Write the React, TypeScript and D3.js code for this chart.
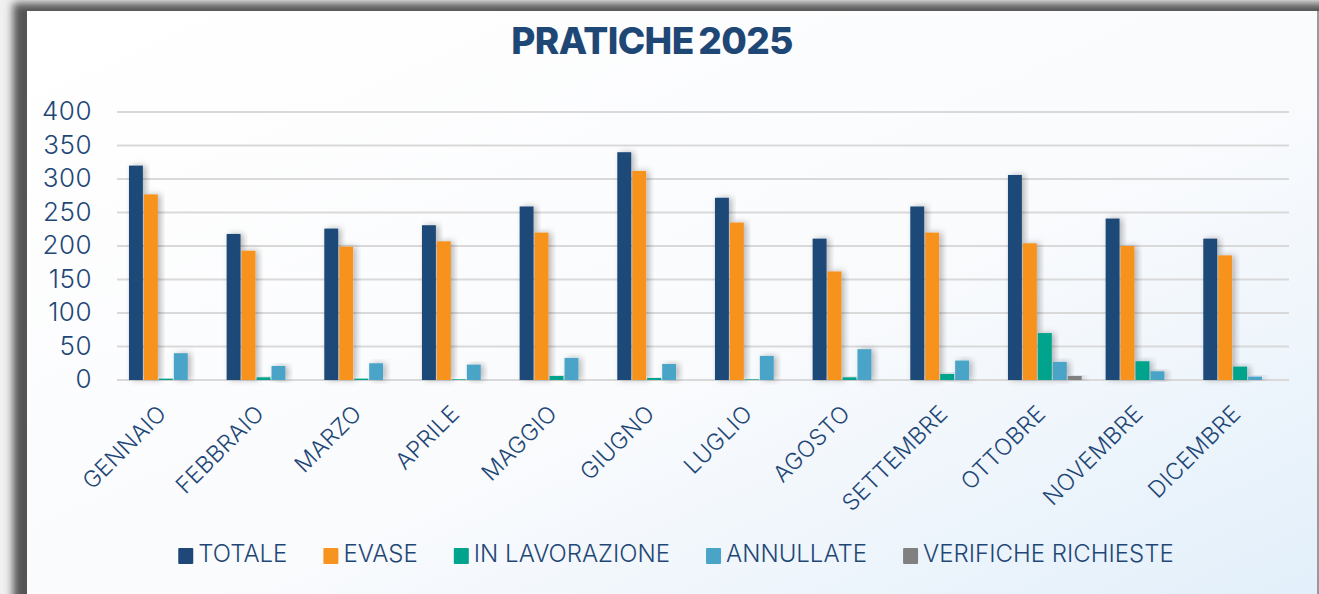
import { useEffect, useRef } from "react";
import * as d3 from "d3";

const W = 1319;
const H = 594;
const MARGIN = { top: 112, right: 30, bottom: 214, left: 117 };

const months = [
  "GENNAIO",
  "FEBBRAIO",
  "MARZO",
  "APRILE",
  "MAGGIO",
  "GIUGNO",
  "LUGLIO",
  "AGOSTO",
  "SETTEMBRE",
  "OTTOBRE",
  "NOVEMBRE",
  "DICEMBRE",
];
const seriesNames = ["TOTALE", "EVASE", "IN LAVORAZIONE", "ANNULLATE", "VERIFICHE RICHIESTE"];
const seriesColors = ["#1f4878", "#f7931f", "#00a38b", "#49a4c8", "#808080"];

const totale = [320, 218, 226, 231, 259, 340, 272, 211, 259, 306, 241, 211];
const evase = [277, 193, 199, 207, 220, 312, 235, 162, 220, 204, 200, 186];
const inLavorazione = [2, 4, 2, 1, 6, 3, 1, 4, 9, 70, 28, 20];
const annullate = [40, 21, 25, 23, 33, 24, 36, 46, 29, 27, 13, 5];
const verificheRichieste = [0, 0, 0, 0, 0, 0, 0, 0, 0, 6, 0, 0];
const yTicks = [0, 50, 100, 150, 200, 250, 300, 350, 400];

const TEXT = "#1f4776";
const FONT = "Inter, 'Open Sans', sans-serif";

export default function App() {
  const ref = useRef<SVGSVGElement>(null);

  useEffect(() => {
    document.body.style.margin = "0";
    const svg = d3.select(ref.current);
    svg.selectAll("*").remove();

    const series = [totale, evase, inLavorazione, annullate, verificheRichieste];
    const baseY = H - MARGIN.bottom;

    const defs = svg.append("defs");
    const bg = defs
      .append("linearGradient")
      .attr("id", "bg")
      .attr("x1", "0")
      .attr("y1", "0")
      .attr("x2", "1")
      .attr("y2", "1");
    bg.append("stop").attr("offset", "0%").attr("stop-color", "#ffffff");
    bg.append("stop").attr("offset", "55%").attr("stop-color", "#fafbfd");
    bg.append("stop").attr("offset", "100%").attr("stop-color", "#e2effa");

    defs
      .append("filter")
      .attr("id", "frameBlur")
      .attr("x", "-5%")
      .attr("y", "-5%")
      .attr("width", "110%")
      .attr("height", "110%")
      .append("feGaussianBlur")
      .attr("stdDeviation", 4);

    const shadow = defs
      .append("filter")
      .attr("id", "barShadow")
      .attr("x", "-50%")
      .attr("y", "-20%")
      .attr("width", "200%")
      .attr("height", "140%");
    shadow
      .append("feDropShadow")
      .attr("dx", 3)
      .attr("dy", 0)
      .attr("stdDeviation", 3)
      .attr("flood-color", "#000")
      .attr("flood-opacity", 0.28);

    // frame
    svg.append("rect").attr("width", W).attr("height", H).attr("fill", "#f0f0f0");
    svg
      .append("rect")
      .attr("x", 13)
      .attr("y", 3)
      .attr("width", W)
      .attr("height", H + 20)
      .attr("fill", "#555")
      .attr("filter", "url(#frameBlur)");
    svg
      .append("rect")
      .attr("x", 27)
      .attr("y", 11)
      .attr("width", 1290)
      .attr("height", H)
      .attr("fill", "url(#bg)");
    svg
      .append("rect")
      .attr("x", 1317)
      .attr("y", 11)
      .attr("width", 2)
      .attr("height", H)
      .attr("fill", "#9a9a9a");

    const xScale = d3
      .scaleBand()
      .domain(months)
      .range([MARGIN.left, 1289])
      .paddingInner(0.245)
      .paddingOuter(0.1225);
    const xInner = d3
      .scaleBand()
      .domain(seriesNames)
      .range([0, xScale.bandwidth()])
      .paddingInner(0.07);
    const yScale = d3.scaleLinear().domain([0, 400]).range([baseY, MARGIN.top]);

    // grid
    svg
      .append("g")
      .selectAll("line")
      .data(yTicks)
      .join("line")
      .attr("x1", MARGIN.left)
      .attr("x2", 1289)
      .attr("y1", (d) => yScale(d))
      .attr("y2", (d) => yScale(d))
      .attr("stroke", "#d9d9d9")
      .attr("stroke-width", 2);

    // y labels
    svg
      .append("g")
      .selectAll("text")
      .data(yTicks)
      .join("text")
      .attr("x", 92)
      .attr("y", (d) => yScale(d) - 1)
      .attr("dy", "0.36em")
      .attr("text-anchor", "end")
      .attr("font-family", FONT)
      .attr("font-weight", 300)
      .attr("font-size", 26)
      .attr("letter-spacing", 0.5)
      .attr("fill", TEXT)
      .text((d) => d);

    // bars
    const groups = svg
      .append("g")
      .selectAll("g")
      .data(months)
      .join("g")
      .attr("transform", (m) => `translate(${xScale(m)},0)`);
    groups
      .selectAll("rect")
      .data((m, i) => series.map((s, k) => ({ k, v: s[i] })))
      .join("rect")
      .attr("x", (d) => xInner(seriesNames[d.k]) as number)
      .attr("width", xInner.bandwidth())
      .attr("y", (d) => yScale(d.v))
      .attr("height", (d) => baseY - yScale(d.v))
      .attr("fill", (d) => seriesColors[d.k])
      .attr("filter", "url(#barShadow)");

    // x labels
    svg
      .append("g")
      .selectAll("text")
      .data(months)
      .join("text")
      .attr("transform", (m) => {
        const cx = (xScale(m) as number) + xScale.bandwidth() / 2 + 2;
        return `translate(${cx},${baseY + 35}) rotate(-45)`;
      })
      .attr("text-anchor", "end")
      .attr("font-family", FONT)
      .attr("font-weight", 300)
      .attr("font-size", 23)
      .attr("letter-spacing", 0.3)
      .attr("fill", TEXT)
      .text((m) => m);

    // title
    svg
      .append("text")
      .attr("x", 652)
      .attr("y", 54)
      .attr("text-anchor", "middle")
      .attr("font-family", FONT)
      .attr("font-weight", 800)
      .attr("font-size", 37)
      .attr("letter-spacing", -0.6)
      .attr("word-spacing", -3)
      .attr("fill", TEXT)
      .text("PRATICHE 2025");

    // legend
    const legend = svg.append("g");
    const items = legend.selectAll("g").data(seriesNames).join("g");
    items
      .append("rect")
      .attr("y", -14)
      .attr("width", 15)
      .attr("height", 16)
      .attr("rx", 1)
      .attr("fill", (d, i) => seriesColors[i]);
    items
      .append("text")
      .attr("x", 20)
      .attr("font-family", FONT)
      .attr("font-weight", 300)
      .attr("font-size", 24)
      .attr("fill", TEXT)
      .text((d) => d);
    const gap = 36;
    let cursor = 0;
    items.each(function () {
      const g = d3.select(this);
      const w = (g.select("text").node() as SVGTextElement).getComputedTextLength();
      g.attr("transform", `translate(${cursor},0)`);
      cursor += 20 + w + gap;
    });
    const total = cursor - gap;
    legend.attr("transform", `translate(${676 - total / 2},562)`);
  }, []);

  return <svg ref={ref} width={W} height={H} style={{ display: "block" }} />;
}
